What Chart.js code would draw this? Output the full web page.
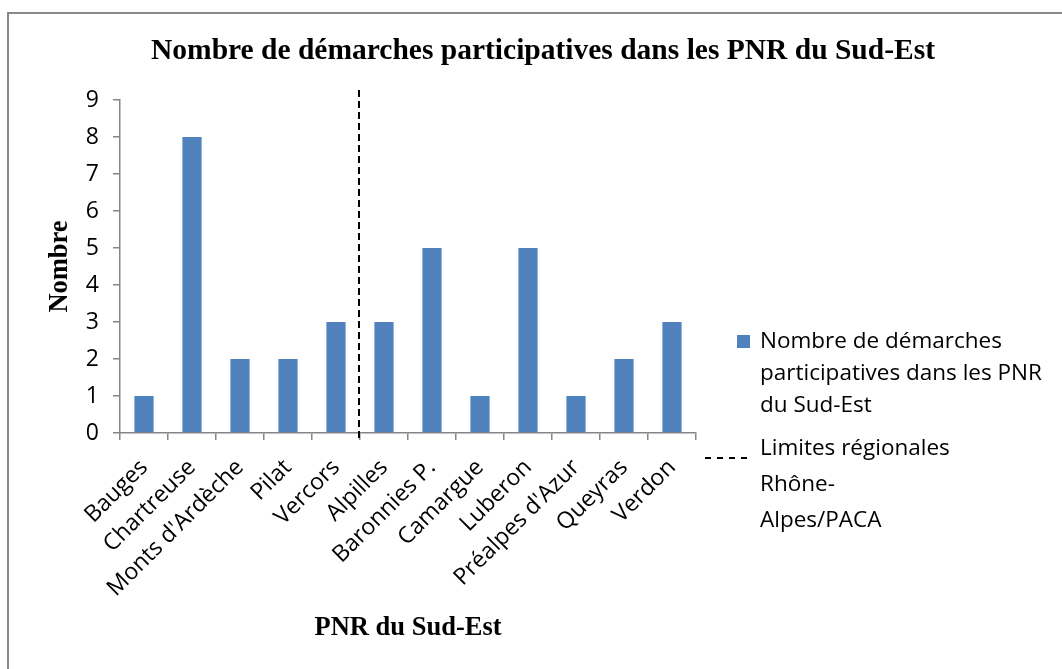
<!DOCTYPE html>
<html>
<head>
<meta charset="utf-8">
<title>Nombre de démarches participatives dans les PNR du Sud-Est</title>
<script src="https://cdn.jsdelivr.net/npm/chart.js@4.4.1/dist/chart.umd.min.js"></script>
<style>
  html, body { margin: 0; padding: 0; background: #ffffff; overflow: hidden; }
  #wrap { position: relative; width: 1062px; height: 669px; }
</style>
</head>
<body>
<div id="wrap"><canvas id="chart" width="1062" height="669"></canvas></div>
<script>
// Parcs naturels régionaux, Rhône-Alpes then PACA
const parks = ['Bauges', 'Chartreuse', "Monts d'Ardèche", 'Pilat', 'Vercors',
               'Alpilles', 'Baronnies P.', 'Camargue', 'Luberon', "Préalpes d'Azur", 'Queyras', 'Verdon'];
const participatoryCounts = [1, 8, 2, 2, 3, 3, 5, 1, 5, 1, 2, 3];
const yTickValues = [0, 1, 2, 3, 4, 5, 6, 7, 8, 9];
// last park on the Rhône-Alpes side of the regional boundary
const regionBoundaryAfter = 'Vercors';

const chartTitle = 'Nombre de démarches participatives dans les PNR du Sud-Est';
const xAxisTitle = 'PNR du Sud-Est';
const yAxisTitle = 'Nombre';
const seriesLabel = 'Nombre de démarches participatives dans les PNR du Sud-Est';
const boundaryLabel = 'Limites régionales\nRhône-\nAlpes/PACA';

// styling
const BAR_BLUE = '#4F81BD';
const AXIS_GREY = '#868686';
const SANS = '"Open Sans", "Noto Sans", sans-serif';
const SERIF = '"Liberation Serif", "Times New Roman", serif';
const SANS_SIZE = 22.5;
const TICK_SIZE = 23;
const SERIF_SIZE = 26.5;
const TITLE_SIZE = 29.5;
const LEGEND_WIDTH = 346;

Chart.defaults.font.family = SANS;
Chart.defaults.font.size = TICK_SIZE;
Chart.defaults.color = '#000';

function wrapText(ctx, text, maxWidth) {
  const out = [];
  text.split('\n').forEach(par => {
    let line = '';
    par.split(' ').forEach(word => {
      const test = line ? line + ' ' + word : word;
      if (line && ctx.measureText(test).width > maxWidth) {
        out.push(line);
        line = word;
      } else {
        line = test;
      }
    });
    out.push(line);
  });
  return out;
}

// grey frame around the figure (top and left edges)
const framePlugin = {
  id: 'frame',
  beforeDraw(chart) {
    const ctx = chart.ctx;
    ctx.save();
    ctx.strokeStyle = '#888888';
    ctx.lineWidth = 2;
    ctx.beginPath();
    ctx.moveTo(8, chart.height);
    ctx.lineTo(8, 13);
    ctx.lineTo(chart.width, 13);
    ctx.stroke();
    ctx.restore();
  }
};

// dashed vertical line marking the regional boundary
const boundaryPlugin = {
  id: 'regionBoundary',
  afterDatasetsDraw(chart) {
    const xs = chart.scales.x, ys = chart.scales.y;
    const i = parks.indexOf(regionBoundaryAfter);
    const px = (xs.getPixelForValue(i) + xs.getPixelForValue(i + 1)) / 2 - 1;
    const ctx = chart.ctx;
    ctx.save();
    ctx.strokeStyle = '#000';
    ctx.lineWidth = 2;
    ctx.setLineDash([7, 4]);
    ctx.beginPath();
    ctx.moveTo(px, ys.getPixelForValue(ys.max) - 10);
    ctx.lineTo(px, ys.getPixelForValue(ys.min) + 8);
    ctx.stroke();
    ctx.restore();
  }
};

// legend laid out as a box on the right of the plot, with wrapped labels
const sideLegendPlugin = {
  id: 'sideLegend',
  beforeInit(chart) {
    const box = {
      position: 'right',
      weight: 0,
      fullSize: false,
      options: {},
      left: 0, top: 0, right: 0, bottom: 0, width: 0, height: 0,
      isHorizontal() { return false; },
      update(maxWidth, maxHeight) {
        this.width = LEGEND_WIDTH;
        this.height = maxHeight;
      },
      draw() {
        const ctx = chart.ctx;
        const L = this.left;
        const textX = L + 64;
        ctx.save();
        ctx.font = SANS_SIZE + 'px ' + SANS;
        ctx.fillStyle = '#000';
        ctx.textAlign = 'left';
        ctx.textBaseline = 'middle';

        // bar series entry
        const y0 = this.top + 242;
        ctx.fillStyle = BAR_BLUE;
        ctx.fillRect(L + 41, y0 - 7, 13, 13);
        ctx.fillStyle = '#000';
        const seriesLines = wrapText(ctx, chart.data.datasets[0].label, 300);
        seriesLines.forEach((t, k) => ctx.fillText(t, textX, y0 + k * 32));

        // boundary line entry
        const y1 = y0 + 107;
        ctx.strokeStyle = '#000';
        ctx.lineWidth = 2;
        ctx.setLineDash([6, 6]);
        ctx.beginPath();
        ctx.moveTo(L + 9, y1 + 9);
        ctx.lineTo(L + 55, y1 + 9);
        ctx.stroke();
        const boundaryLines = wrapText(ctx, boundaryLabel, 300);
        boundaryLines.forEach((t, k) => ctx.fillText(t, textX, y1 + k * 36));
        ctx.restore();
      }
    };
    Chart.layouts.addBox(chart, box);
  }
};

new Chart(document.getElementById('chart'), {
  type: 'bar',
  data: {
    labels: parks,
    datasets: [{
      label: seriesLabel,
      data: participatoryCounts,
      backgroundColor: BAR_BLUE,
      borderWidth: 0,
      barPercentage: 0.4,
      categoryPercentage: 1.0
    }]
  },
  options: {
    responsive: false,
    animation: false,
    events: [],
    layout: { padding: { left: 44, right: 20, top: 20, bottom: 25 } },
    plugins: {
      legend: { display: false },
      tooltip: { enabled: false },
      title: {
        display: true,
        text: chartTitle,
        color: '#000',
        font: { family: SERIF, size: TITLE_SIZE, weight: 'bold' },
        padding: { top: 14, bottom: 30.6 }
      }
    },
    scales: {
      x: {
        grid: { display: true, drawOnChartArea: false, drawTicks: true, tickLength: 7, color: AXIS_GREY, lineWidth: 1.5, offset: true },
        border: { display: true, color: AXIS_GREY, width: 1.5 },
        ticks: { autoSkip: false, maxRotation: 45, minRotation: 45, padding: 14, color: '#000' },
        title: {
          display: true, text: xAxisTitle, color: '#000',
          font: { family: SERIF, size: SERIF_SIZE, weight: 'bold' },
          padding: { top: 0, bottom: 0 }
        },
        afterFit(scale) { scale.height = 211; }
      },
      y: {
        min: yTickValues[0],
        max: yTickValues[yTickValues.length - 1],
        afterBuildTicks(scale) { scale.ticks = yTickValues.map(v => ({ value: v })); },
        grid: { display: true, drawOnChartArea: false, drawTicks: true, tickLength: 7, color: AXIS_GREY, lineWidth: 1.5 },
        border: { display: true, color: AXIS_GREY, width: 1.5 },
        ticks: { padding: 14, color: '#000' },
        title: {
          display: true, text: yAxisTitle, color: '#000',
          font: { family: SERIF, size: SERIF_SIZE, weight: 'bold' },
          padding: { top: 0, bottom: 0 }
        },
        afterFit(scale) { scale.width = 76; }
      }
    }
  },
  plugins: [framePlugin, boundaryPlugin, sideLegendPlugin]
});
</script>
</body>
</html>
